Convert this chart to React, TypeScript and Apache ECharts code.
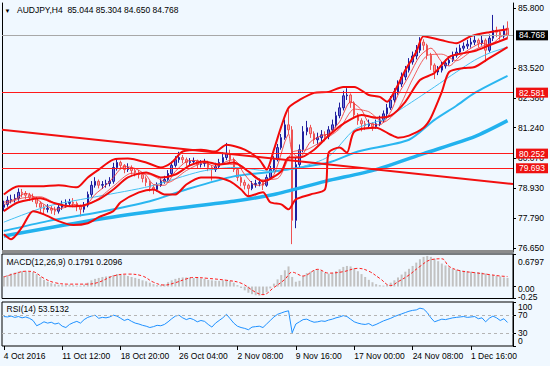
import React, { useEffect, useRef } from 'react';
import * as echarts from 'echarts';

const FONT = '"Liberation Sans", Arial, sans-serif';
const TITLE = 'AUDJPY,H4  85.044 85.304 84.650 84.768';
const MACD_TITLE = 'MACD(12,26,9) 0.1791 0.2096';
const RSI_TITLE = 'RSI(14) 53.5132';

const N_SLOTS = 140;
const X_LABEL_STEP = 16;
const xLabels = ['4 Oct 2016', '11 Oct 12:00', '18 Oct 20:00', '26 Oct 04:00', '2 Nov 08:00', '9 Nov 16:00', '17 Nov 00:00', '24 Nov 08:00', '1 Dec 16:00'];

const PRICE_MIN = 76.49;
const PRICE_MAX = 86.006;
const priceTicks = [85.8, 83.52, 82.38, 81.24, 80.07, 78.93, 77.79, 76.65];
const MACD_MIN = -0.25;
const MACD_MAX = 0.6797;
const macdTicks = [0.6797, 0, -0.25];
const macdTickLabels = ['0.6797', '0.00', '-0.25'];
// where the terminal prints those labels (it keeps the edge labels inside the pane)
const macdLabelAt = [0.523, -0.042, -0.219];
const rsiTicks = [100, 70, 30, 0];
const rsiTickLabels = ['100', '70', '30', '0'];
const rsiLabelAt = [89.5, 70, 30, 10.5];
const rsiLevels = [70, 30];

const bidLevel = 84.768;
const redLevels = [82.581, 80.252, 79.693];
const trendLine: [number, number][] = [[-0.5, 81.16], [139.5, 79.09]];

// [open, close, low, high]
const ohlc: number[][] = [
  [78.20, 78.31, 78.05, 78.45], [78.31, 78.47, 78.22, 78.62], [78.47, 78.50, 78.35, 78.68], [78.50, 78.54, 78.38, 78.70],
  [78.54, 78.77, 78.45, 78.92], [78.77, 78.73, 78.58, 78.90], [78.73, 78.66, 78.52, 78.82], [78.66, 78.58, 78.44, 78.75],
  [78.58, 78.54, 78.40, 78.72], [78.54, 78.35, 78.20, 78.60], [78.35, 78.20, 78.02, 78.42], [78.20, 78.12, 77.92, 78.30],
  [78.12, 78.16, 78.00, 78.32], [78.16, 78.09, 77.95, 78.25], [78.09, 78.05, 77.90, 78.22], [78.05, 78.20, 77.96, 78.35],
  [78.20, 78.31, 78.10, 78.45], [78.31, 78.35, 78.18, 78.50], [78.35, 78.39, 78.22, 78.52], [78.39, 78.35, 78.20, 78.55],
  [78.35, 78.24, 78.05, 78.42], [78.24, 78.12, 77.85, 78.30], [78.12, 78.28, 78.00, 78.40], [78.28, 78.69, 78.20, 78.80],
  [78.69, 79.04, 78.60, 79.20], [79.04, 79.19, 78.95, 79.35], [79.19, 79.04, 78.92, 79.26], [79.04, 79.07, 78.90, 79.20],
  [79.07, 79.11, 78.95, 79.25], [79.11, 79.19, 79.00, 79.35], [79.19, 79.72, 79.10, 79.90], [79.72, 79.91, 79.60, 80.08],
  [79.91, 79.80, 79.65, 79.98], [79.80, 79.64, 79.50, 79.85], [79.64, 79.72, 79.55, 79.88], [79.72, 79.60, 79.45, 79.80],
  [79.60, 79.53, 79.38, 79.70], [79.53, 79.45, 79.30, 79.62], [79.45, 79.30, 79.15, 79.52], [79.30, 79.15, 79.00, 79.38],
  [79.15, 78.96, 78.80, 79.22], [78.96, 78.88, 78.70, 79.05], [78.88, 79.04, 78.80, 79.15], [79.04, 79.19, 78.98, 79.30],
  [79.19, 79.26, 79.10, 79.40], [79.26, 79.49, 79.18, 79.62], [79.49, 79.80, 79.42, 79.95], [79.80, 80.02, 79.72, 80.15],
  [80.02, 80.10, 79.90, 80.32], [80.10, 80.02, 79.88, 80.20], [80.02, 79.91, 79.78, 80.10], [79.91, 79.95, 79.80, 80.08],
  [79.95, 79.97, 79.82, 80.10], [79.97, 79.83, 79.70, 80.02], [79.83, 79.87, 79.72, 80.00], [79.87, 79.91, 79.75, 80.05],
  [79.91, 79.72, 79.58, 79.98], [79.72, 79.64, 79.22, 79.80], [79.64, 79.75, 79.55, 79.90], [79.75, 79.91, 79.68, 80.05],
  [79.91, 80.10, 79.85, 80.30], [80.10, 80.25, 80.00, 80.66], [80.25, 80.02, 79.90, 80.40], [80.02, 79.64, 79.55, 80.10],
  [79.64, 79.34, 79.20, 79.70], [79.34, 79.15, 79.00, 79.40], [79.15, 79.04, 78.88, 79.25], [79.04, 78.92, 78.60, 79.10],
  [78.92, 79.07, 78.85, 79.20], [79.07, 79.11, 78.95, 79.25], [79.11, 79.15, 79.00, 79.30], [79.15, 79.04, 78.86, 79.22],
  [79.04, 79.34, 78.98, 79.45], [79.34, 79.64, 79.25, 79.78], [79.64, 80.02, 79.55, 80.15], [80.02, 80.48, 79.95, 80.62],
  [80.48, 80.86, 80.40, 81.00], [80.86, 81.35, 80.78, 81.55], [81.35, 81.16, 81.00, 81.92], [81.16, 77.70, 76.79, 81.30],
  [77.70, 79.83, 77.40, 80.10], [79.83, 80.40, 79.70, 80.60], [80.40, 81.09, 80.30, 81.30], [81.09, 81.24, 80.95, 81.50],
  [81.24, 81.01, 80.85, 81.35], [81.01, 80.78, 80.62, 81.10], [80.78, 80.86, 80.60, 81.05], [80.86, 80.97, 80.70, 81.15],
  [80.97, 80.90, 80.72, 81.10], [80.90, 81.16, 80.80, 81.30], [81.16, 81.35, 81.05, 81.55], [81.35, 81.70, 81.25, 81.85],
  [81.70, 82.00, 81.60, 82.20], [82.00, 82.46, 81.90, 82.65], [82.46, 82.49, 82.30, 82.75], [82.49, 82.19, 82.00, 82.55],
  [82.19, 81.73, 81.60, 82.25], [81.73, 81.51, 81.35, 81.80], [81.51, 81.39, 81.10, 81.60], [81.39, 81.32, 81.15, 81.50],
  [81.32, 81.39, 81.20, 81.55], [81.39, 81.28, 81.12, 81.45], [81.28, 81.39, 81.20, 81.55], [81.39, 81.54, 81.30, 81.70],
  [81.54, 81.77, 81.45, 81.90], [81.77, 82.00, 81.68, 82.15], [82.00, 82.30, 81.92, 82.45], [82.30, 82.61, 82.20, 82.75],
  [82.61, 82.91, 82.50, 83.05], [82.91, 83.18, 82.80, 83.35], [83.18, 83.44, 83.05, 83.60], [83.44, 83.75, 83.35, 83.90],
  [83.75, 83.98, 83.65, 84.15], [83.98, 84.20, 83.85, 84.40], [84.20, 84.51, 84.10, 84.70], [84.51, 84.39, 84.20, 84.62],
  [84.39, 84.01, 83.85, 84.45], [84.01, 83.63, 83.45, 84.10], [83.63, 83.37, 83.10, 83.70], [83.37, 83.44, 83.25, 83.60],
  [83.44, 83.60, 83.35, 83.75], [83.60, 83.71, 83.50, 83.85], [83.71, 83.82, 83.62, 83.98], [83.82, 84.01, 83.75, 84.15],
  [84.01, 84.13, 83.92, 84.30], [84.13, 84.28, 84.05, 84.42], [84.28, 84.36, 84.18, 84.50], [84.36, 84.43, 84.25, 84.60],
  [84.43, 84.51, 84.30, 84.68], [84.51, 84.58, 84.40, 84.75], [84.58, 84.47, 84.30, 84.65], [84.47, 84.58, 84.38, 84.75],
  [84.58, 84.20, 83.75, 84.65], [84.20, 84.66, 84.12, 84.80], [84.66, 84.96, 84.55, 85.55], [84.96, 84.89, 84.70, 85.10],
  [84.89, 84.74, 84.60, 84.98], [84.74, 84.96, 84.65, 85.15], [85.044, 84.768, 84.650, 85.304],
];

// Indicator lines: [bar index, value]
const bbUpper: [number, number][] = [[0, 78.69], [4, 79.00], [10, 79.00], [15, 79.04], [20, 78.96], [23, 79.34], [26, 79.64], [30, 80.02], [34, 80.06], [39, 79.91], [43, 79.72], [46, 79.91], [49, 80.33], [54, 80.40], [58, 80.33], [61, 80.59], [66, 80.40], [70, 80.02], [72, 79.64], [74, 80.40], [76, 81.28], [78, 82.00], [81, 82.30], [85, 82.57], [89, 82.61], [93, 82.80], [96, 82.80], [100, 82.49], [103, 82.42], [105, 82.23], [107, 82.61], [110, 83.44], [113, 84.13], [115, 84.74], [120, 84.58], [124, 84.47], [128, 84.74], [133, 84.89], [138, 85.00]];
const bbMiddle: [number, number][] = [[0, 78.05], [4, 78.39], [10, 78.54], [14, 78.35], [18, 78.24], [22, 78.28], [26, 78.50], [30, 78.88], [34, 79.34], [39, 79.53], [43, 79.34], [47, 79.45], [51, 79.80], [55, 79.95], [59, 79.83], [63, 79.91], [67, 79.57], [71, 79.19], [76, 79.57], [78, 80.10], [81, 80.10], [85, 80.40], [89, 80.94], [93, 81.39], [98, 81.73], [102, 81.62], [106, 81.70], [110, 82.23], [114, 83.06], [118, 83.33], [122, 83.94], [126, 84.09], [129, 84.17], [133, 84.39], [138, 84.66]];
const bbLower: [number, number][] = [[0, 77.17], [2, 76.98], [5, 77.44], [8, 78.05], [11, 77.93], [15, 77.67], [19, 77.52], [23, 77.59], [26, 77.82], [30, 78.05], [32, 78.39], [37, 78.77], [41, 78.88], [44, 78.69], [47, 78.69], [50, 79.07], [54, 79.34], [58, 79.34], [62, 79.19], [65, 78.88], [67, 78.62], [71, 78.77], [73, 78.39], [76, 78.31], [78, 78.12], [80, 78.50], [84, 78.69], [88, 78.88], [89, 80.29], [92, 80.48], [94, 80.29], [96, 81.09], [102, 81.24], [106, 80.97], [108, 80.86], [111, 80.94], [115, 81.24], [117, 81.62], [120, 82.61], [122, 83.37], [126, 83.52], [129, 83.56], [133, 83.90], [138, 84.32]];
const fastMa: [number, number][] = [[0, 78.39], [3, 78.50], [6, 78.73], [8, 78.62], [11, 78.31], [14, 78.12], [17, 78.20], [19, 78.31], [22, 78.24], [25, 78.69], [28, 79.04], [30, 79.34], [33, 79.76], [36, 79.68], [39, 79.42], [41, 79.07], [44, 79.04], [47, 79.57], [50, 79.95], [52, 79.99], [55, 79.91], [58, 79.76], [61, 79.95], [63, 80.02], [66, 79.45], [69, 79.04], [71, 79.07], [74, 79.45], [77, 80.70], [78, 81.00], [79, 80.30], [81, 80.10], [84, 80.70], [87, 80.94], [89, 81.01], [92, 81.47], [95, 82.23], [98, 81.92], [100, 81.43], [103, 81.35], [106, 81.85], [108, 82.49], [111, 83.22], [114, 83.98], [117, 84.28], [120, 83.75], [122, 83.60], [125, 83.98], [128, 84.28], [131, 84.47], [133, 84.39], [136, 84.70], [138, 84.85]];
const slowMa: [number, number][] = [[0, 78.30], [5, 78.55], [10, 78.60], [15, 78.30], [20, 78.22], [25, 78.45], [30, 79.00], [35, 79.50], [40, 79.45], [45, 79.15], [50, 79.60], [55, 79.90], [60, 79.85], [65, 79.80], [70, 79.25], [75, 79.30], [79, 80.30], [83, 80.40], [88, 80.80], [92, 81.20], [96, 81.95], [100, 81.85], [104, 81.45], [108, 81.95], [112, 83.10], [116, 84.00], [120, 84.05], [124, 83.80], [128, 84.15], [132, 84.40], [136, 84.55], [138, 84.70]];
const cyanFast: [number, number][] = [[0, 77.63], [12, 78.24], [26, 78.62], [40, 79.00], [54, 79.57], [63, 79.72], [74, 79.57], [81, 79.72], [89, 80.14], [96, 81.16], [102, 81.47], [104, 81.54], [111, 82.15], [118, 82.80], [124, 83.37], [129, 83.82], [133, 84.09], [138, 84.32]];
const cyanMid: [number, number][] = [[0, 77.29], [12, 77.67], [26, 78.01], [40, 78.43], [50, 78.88], [63, 79.38], [74, 79.57], [89, 79.91], [97, 80.33], [111, 80.78], [118, 81.54], [124, 82.08], [129, 82.57], [138, 83.22]];
const cyanSlow: [number, number][] = [[0, 77.10], [26, 77.74], [45, 78.12], [63, 78.43], [74, 78.69], [88, 79.19], [102, 79.64], [115, 80.25], [129, 80.90], [138, 81.51]];

const macdHist = [0.22, 0.24, 0.27, 0.29, 0.31, 0.32, 0.32, 0.31, 0.30, 0.26, 0.20, 0.14, 0.10, 0.07, 0.05, 0.04, 0.03, 0.03, 0.04, 0.03, 0.02, 0.02, 0.04, 0.08, 0.13, 0.16, 0.18, 0.20, 0.21, 0.22, 0.24, 0.26, 0.25, 0.24, 0.22, 0.20, 0.18, 0.16, 0.13, 0.11, 0.08, 0.05, 0.03, 0.03, 0.05, 0.09, 0.13, 0.16, 0.18, 0.19, 0.19, 0.19, 0.18, 0.18, 0.17, 0.16, 0.14, 0.13, 0.12, 0.12, 0.13, 0.14, 0.12, 0.08, 0.03, -0.03, -0.08, -0.13, -0.16, -0.18, -0.19, -0.17, -0.12, -0.04, 0.06, 0.15, 0.24, 0.34, 0.42, 0.20, 0.10, 0.12, 0.22, 0.28, 0.31, 0.34, 0.36, 0.33, 0.29, 0.27, 0.28, 0.32, 0.36, 0.41, 0.43, 0.42, 0.38, 0.32, 0.26, 0.20, 0.14, 0.09, 0.05, 0.03, 0.02, 0.04, 0.08, 0.13, 0.19, 0.25, 0.31, 0.37, 0.43, 0.50, 0.57, 0.62, 0.64, 0.62, 0.58, 0.53, 0.48, 0.44, 0.40, 0.37, 0.35, 0.34, 0.33, 0.32, 0.31, 0.30, 0.30, 0.29, 0.27, 0.25, 0.24, 0.22, 0.21, 0.19, 0.18];
const macdSignal: [number, number][] = [[0, 0.20], [3, 0.27], [6, 0.32], [8, 0.31], [11, 0.17], [14, 0.08], [18, 0.05], [23, 0.05], [26, 0.09], [30, 0.22], [34, 0.26], [38, 0.22], [41, 0.09], [44, 0.03], [47, 0.08], [50, 0.16], [52, 0.19], [56, 0.17], [61, 0.13], [65, 0.07], [69, -0.12], [71, -0.17], [74, -0.02], [77, 0.15], [79, 0.30], [82, 0.22], [86, 0.36], [89, 0.28], [93, 0.31], [97, 0.38], [100, 0.32], [103, 0.17], [106, 0.02], [108, 0.10], [111, 0.24], [114, 0.42], [117, 0.56], [120, 0.58], [122, 0.42], [125, 0.33], [129, 0.29], [133, 0.25], [136, 0.22], [138, 0.21]];

const rsi = [67, 66, 68, 65, 67, 64, 66, 63, 58, 46, 50, 55, 52, 54, 50, 52, 45, 42, 49, 53, 56, 52, 60, 65, 68, 70, 63, 65, 64, 66, 70, 68, 63, 58, 61, 56, 52, 50, 47, 45, 42, 44, 47, 46, 49, 55, 62, 68, 70, 64, 60, 63, 60, 55, 58, 56, 49, 43, 52, 58, 64, 72, 62, 52, 45, 42, 40, 37, 43, 44, 45, 42, 50, 58, 66, 72, 75, 78, 80, 30, 50, 55, 60, 61, 57, 54, 55, 57, 56, 59, 61, 64, 66, 69, 67, 61, 55, 52, 50, 49, 51, 46, 49, 53, 57, 60, 63, 67, 70, 73, 76, 79, 81, 82, 86, 84, 76, 64, 55, 58, 61, 60, 62, 64, 65, 66, 67, 65, 66, 67, 62, 64, 55, 63, 68, 64, 58, 62, 53.51];

function nearestIndex(list: number[], v: number): number {
  let best = 0;
  for (let k = 1; k < list.length; k++) if (Math.abs(list[k] - v) < Math.abs(list[best] - v)) best = k;
  return best;
}

function buildOption(): any {
  const categories = Array.from({ length: N_SLOTS }, (_, i) => String(i));
  const labelInterval = (i: number) => i % X_LABEL_STEP === 0 && i / X_LABEL_STEP < xLabels.length;
  const txt = { fontFamily: FONT, fontSize: 8.5, color: '#000' };
  const hiddenCat = (g: number) => ({ type: 'category', gridIndex: g, data: categories, show: false });
  const hiddenVal = (g: number) => ({ type: 'value', gridIndex: g, min: -0.5, max: N_SLOTS - 0.5, show: false });
  const thickRed = { color: '#F20A0A', width: 2 };
  const lineBase = { type: 'line', xAxisIndex: 1, yAxisIndex: 0, symbol: 'none', smooth: 0.25, silent: true };
  const levelLabel = (bg: string) => ({ show: true, position: 'end', distance: 3, color: '#fff', backgroundColor: bg, padding: [1, 3, 0, 3], lineHeight: 9, fontFamily: FONT, fontSize: 8.5 });
  const sideAxisLabel = { margin: 5, showMinLabel: true, showMaxLabel: true, hideOverlap: false, lineHeight: 8, ...txt };

  // a right-hand axis for a lower pane; labels are split over two axes so none of them is dropped
  const paneAxis = (grid: number, min: number, max: number, ticks: number[] | null, labelAt: number[], allLabelAt: number[], names: string[]) => ({
    type: 'value', gridIndex: grid, position: 'right', min, max,
    axisLine: { show: !!ticks, onZero: false, lineStyle: { color: '#000' } },
    axisTick: ticks ? { show: true, customValues: ticks, length: 3, lineStyle: { color: '#000' } } : { show: false },
    axisLabel: { ...sideAxisLabel, customValues: labelAt, formatter: (v: number) => names[nearestIndex(allLabelAt, v)] },
    splitLine: { show: false },
  });

  return {
    animation: false,
    backgroundColor: '#F0F8FF',
    grid: [
      { left: 2, top: 3, width: 511, height: 249, outerBoundsMode: 'none' },
      { left: 2, top: 254, width: 511, height: 44.5, show: true, borderColor: '#000', borderWidth: 1, backgroundColor: 'transparent', outerBoundsMode: 'none' },
      { left: 2, top: 302, width: 511, height: 44, show: true, borderColor: '#000', borderWidth: 1, backgroundColor: 'transparent', outerBoundsMode: 'none' },
    ],
    xAxis: [
      hiddenCat(0),
      hiddenVal(0),
      hiddenCat(1),
      hiddenVal(1),
      {
        type: 'category', gridIndex: 2, data: categories,
        axisLine: { show: false },
        axisTick: { show: true, alignWithLabel: true, interval: labelInterval, length: 4, lineStyle: { color: '#000' } },
        axisLabel: { interval: labelInterval, formatter: (_v: string, i: number) => (labelInterval(i) ? xLabels[i / X_LABEL_STEP] : ''), align: 'left', margin: 5, ...txt },
        splitLine: { show: false },
      },
    ],
    yAxis: [
      {
        type: 'value', gridIndex: 0, position: 'right', min: PRICE_MIN, max: PRICE_MAX,
        axisLine: { show: true, onZero: false, lineStyle: { color: '#000' } },
        axisTick: { show: true, customValues: priceTicks, length: 3, lineStyle: { color: '#000' } },
        axisLabel: { ...sideAxisLabel, customValues: priceTicks, formatter: (v: number) => v.toFixed(3) },
        splitLine: { show: false },
      },
      {
        type: 'value', gridIndex: 0, position: 'left', min: 0, max: 1,
        axisLine: { show: true, onZero: false, lineStyle: { color: '#000' } },
        axisTick: { show: false }, axisLabel: { show: false }, splitLine: { show: false },
      },
      paneAxis(1, MACD_MIN, MACD_MAX, macdTicks, [macdLabelAt[0], macdLabelAt[1]], macdLabelAt, macdTickLabels),
      paneAxis(1, MACD_MIN, MACD_MAX, null, [macdLabelAt[2]], macdLabelAt, macdTickLabels),
      paneAxis(2, 0, 100, rsiTicks, [rsiLabelAt[0], rsiLabelAt[2]], rsiLabelAt, rsiTickLabels),
      paneAxis(2, 0, 100, null, [rsiLabelAt[1], rsiLabelAt[3]], rsiLabelAt, rsiTickLabels),
    ],
    series: [
      {
        type: 'candlestick', xAxisIndex: 0, yAxisIndex: 0, data: ohlc, barWidth: 2, silent: true,
        itemStyle: { color: '#7474DC', borderColor: '#1E1E9E', color0: '#F7A6A6', borderColor0: '#EE5252', borderWidth: 1 },
      },
      { ...lineBase, data: cyanSlow, lineStyle: { color: '#22B2EE', width: 3.5 } },
      { ...lineBase, data: cyanMid, lineStyle: { color: '#2AB6F0', width: 2 } },
      { ...lineBase, data: cyanFast, lineStyle: { color: '#45C0F2', width: 1 } },
      { ...lineBase, data: slowMa, lineStyle: { color: '#F24444', width: 1, opacity: 0.85 } },
      { ...lineBase, data: fastMa, lineStyle: { color: '#F23030', width: 1, opacity: 0.85 } },
      { ...lineBase, data: bbUpper, lineStyle: thickRed },
      { ...lineBase, data: bbMiddle, lineStyle: thickRed },
      { ...lineBase, data: bbLower, lineStyle: thickRed },
      {
        ...lineBase, smooth: false, clip: false, data: trendLine, lineStyle: { color: '#F21010', width: 2 },
        markLine: {
          silent: true, symbol: ['none', 'none'], animation: false,
          data: [
            { yAxis: bidLevel, lineStyle: { color: '#A8A8A8', width: 1, type: 'solid' }, label: { ...levelLabel('#000'), formatter: bidLevel.toFixed(3) } },
            ...redLevels.map((lv) => ({ yAxis: lv, lineStyle: { color: '#FF1A1A', width: 1, type: 'solid' }, label: { ...levelLabel('#EE1111'), formatter: lv.toFixed(3) } })),
          ],
        },
      },
      { type: 'bar', xAxisIndex: 2, yAxisIndex: 2, data: macdHist, barWidth: 2, silent: true, itemStyle: { color: '#C2C2C2' } },
      { type: 'line', xAxisIndex: 3, yAxisIndex: 2, data: macdSignal, symbol: 'none', smooth: 0.4, silent: true, lineStyle: { color: '#FF2020', width: 1, type: [3, 2] } },
      {
        type: 'line', xAxisIndex: 4, yAxisIndex: 4, data: rsi, symbol: 'none', silent: true, lineStyle: { color: '#1E90FF', width: 1 },
        markLine: {
          silent: true, symbol: ['none', 'none'], animation: false, label: { show: false },
          lineStyle: { color: '#B4B4B4', width: 1, type: [3, 3] },
          data: rsiLevels.map((v) => ({ yAxis: v })),
        },
      },
    ],
    graphic: [
      { type: 'rect', z: 50, shape: { x: 2, y: 250, width: 511.5, height: 3 }, style: { fill: '#8C8C8C' } },
      { type: 'text', z: 50, x: 4.5, y: 7.5, style: { text: '▼', fontSize: 6, fontFamily: FONT, fill: '#000' } },
      { type: 'text', z: 50, x: 17, y: 5.5, style: { text: TITLE, fontSize: 8.5, fontFamily: FONT, fill: '#000' } },
      { type: 'text', z: 50, x: 6.5, y: 257, style: { text: MACD_TITLE, fontSize: 8.5, fontFamily: FONT, fill: '#000' } },
      { type: 'text', z: 50, x: 6.5, y: 304.5, style: { text: RSI_TITLE, fontSize: 8.5, fontFamily: FONT, fill: '#000' } },
    ],
  };
}

export default function App() {
  const ref = useRef<HTMLDivElement>(null);
  useEffect(() => {
    if (!ref.current) return;
    const chart = echarts.init(ref.current, undefined, { renderer: 'svg' });
    chart.setOption(buildOption());
    return () => chart.dispose();
  }, []);
  return <div ref={ref} style={{ position: 'fixed', left: 0, top: 0, width: 550, height: 366 }} />;
}
